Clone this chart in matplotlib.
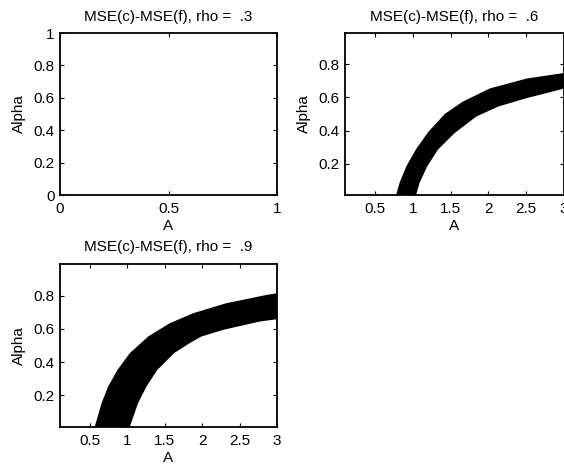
import numpy as np
import matplotlib
matplotlib.use("Agg")
import matplotlib.pyplot as plt
from matplotlib.ticker import FormatStrFormatter

plt.rcParams['font.family'] = ['Liberation Sans', 'DejaVu Sans']
plt.rcParams['font.size'] = 11

# rho = .6 band
a6_up = [0.77, 0.823, 0.912, 1.045, 1.20, 1.42, 1.66, 2.02, 2.51, 3.0]
al6_up = [0.0, 0.084, 0.184, 0.29, 0.39, 0.50, 0.575, 0.655, 0.715, 0.748]
a6_lo = [1.035, 1.088, 1.19, 1.33, 1.55, 1.84, 2.13, 2.49, 2.95, 3.0]
al6_lo = [0.0, 0.084, 0.184, 0.284, 0.384, 0.485, 0.545, 0.594, 0.648, 0.654]

# rho = .9 band
a9_up = [0.557, 0.656, 0.744, 0.869, 1.033, 1.278, 1.567, 1.88, 2.32, 2.86, 3.0]
al9_up = [0.0, 0.154, 0.254, 0.354, 0.454, 0.554, 0.634, 0.694, 0.754, 0.804, 0.814]
a9_lo = [1.024, 1.144, 1.256, 1.402, 1.624, 1.833, 1.989, 2.28, 2.77, 3.0]
al9_lo = [0.0, 0.154, 0.254, 0.354, 0.454, 0.514, 0.554, 0.594, 0.644, 0.658]

titles = ["MSE(c)-MSE(f), rho =  .3", "MSE(c)-MSE(f), rho =  .6", "MSE(c)-MSE(f), rho =  .9"]

fig = plt.figure(figsize=(5.64, 4.68), dpi=100)
W, H = 564, 468

def make_ax(l, t, r, b):
    return fig.add_axes([l / W, 1 - b / H, (r - l) / W, (b - t) / H])

ax1 = make_ax(60, 33, 277, 195)
ax2 = make_ax(345, 33, 564, 195)
ax3 = make_ax(60, 264, 277, 427)

def style(ax):
    for s in ax.spines.values():
        s.set_linewidth(1.3)
    ax.tick_params(direction='in', length=3, width=0.8, top=True, right=True,
                   labelsize=11)
    ax.tick_params(axis='x', pad=5)
    ax.tick_params(axis='y', pad=4)
    ax.xaxis.set_major_formatter(FormatStrFormatter('%g'))
    ax.yaxis.set_major_formatter(FormatStrFormatter('%g'))
    ax.set_xlabel("A", fontsize=11, labelpad=2)
    ax.set_ylabel("Alpha", fontsize=11, labelpad=5)

# empty plot for rho = .3
ax1.set_xlim(0, 1)
ax1.set_ylim(0, 1)
ax1.set_xticks([0, 0.5, 1])
ax1.set_yticks([0, 0.2, 0.4, 0.6, 0.8, 1])
ax1.set_title(titles[0], fontsize=11, pad=9)
style(ax1)

for ax, au, alu, alo_a, alo, t in [(ax2, a6_up, al6_up, a6_lo, al6_lo, titles[1]),
                                   (ax3, a9_up, al9_up, a9_lo, al9_lo, titles[2])]:
    xs = list(au) + list(alo_a)[::-1]
    ys = list(alu) + list(alo)[::-1]
    ax.fill(xs, ys, color='black', lw=0)
    ax.set_xlim(0.1, 3)
    ax.set_ylim(0.01, 0.99)
    ax.set_xticks([0.5, 1, 1.5, 2, 2.5, 3])
    ax.set_yticks([0.2, 0.4, 0.6, 0.8])
    ax.set_title(t, fontsize=11, pad=9)
    style(ax)

fig.savefig("out.png", dpi=100)
